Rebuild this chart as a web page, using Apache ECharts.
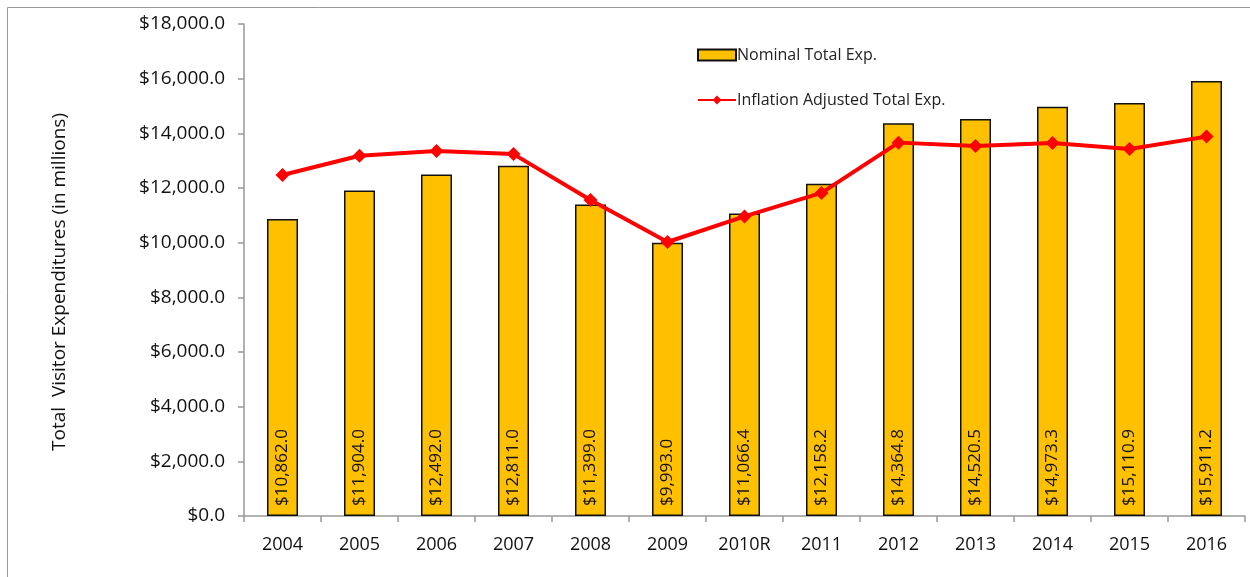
<!DOCTYPE html>
<html>
<head>
<meta charset="utf-8">
<script src="https://cdn.jsdelivr.net/npm/echarts@6/dist/echarts.min.js"></script>
<style>
  html, body { margin: 0; padding: 0; background: #fff; }
  #chart { width: 1250px; height: 577px; }
</style>
</head>
<body>
<div id="chart"></div>
<script>
// data
const years = ['2004', '2005', '2006', '2007', '2008', '2009', '2010R', '2011', '2012', '2013', '2014', '2015', '2016'];
const nominal = [10862.0, 11904.0, 12492.0, 12811.0, 11399.0, 9993.0, 11066.4, 12158.2, 14364.8, 14520.5, 14973.3, 15110.9, 15911.2];
const adjusted = [12475, 13180, 13355, 13240, 11560, 10025, 10960, 11820, 13660, 13540, 13650, 13430, 13880];

const font = 'Open Sans';
const money = v => '$' + Number(v).toLocaleString('en-US', { minimumFractionDigits: 1, maximumFractionDigits: 1 });

const myChart = echarts.init(document.getElementById('chart'));
myChart.setOption({
  animation: false,
  textStyle: { fontFamily: font },
  graphic: [
    {
      type: 'rect',
      shape: { x: 7.5, y: 7.5, width: 1260, height: 600 },
      style: { fill: 'none', stroke: '#999', lineWidth: 1 },
      silent: true
    }
  ],
  legend: {
    orient: 'vertical',
    left: 692,
    top: 42,
    itemGap: 29,
    itemWidth: 38,
    itemHeight: 11,
    textStyle: { fontFamily: font, fontSize: 16, color: '#222', padding: [0, 0, 0, -4] },
    data: [
      { name: 'Nominal Total Exp.', icon: 'rect' },
      { name: 'Inflation Adjusted Total Exp.' }
    ]
  },
  grid: {
    left: 244,
    right: 5,
    top: 24,
    bottom: 61
  },
  xAxis: {
    type: 'category',
    data: years,
    axisLine: { lineStyle: { color: '#999', width: 1.5 } },
    axisTick: { show: true, interval: 0, length: 6, lineStyle: { color: '#999', width: 1.5 } },
    axisLabel: { color: '#111', fontSize: 18, margin: 20, interval: 0 }
  },
  yAxis: {
    type: 'value',
    min: 0,
    max: 18000,
    interval: 2000,
    name: 'Total  Visitor Expenditures (in millions)',
    nameLocation: 'middle',
    nameGap: 175,
    nameTextStyle: { fontSize: 19, color: '#111', padding: [0, 24, 0, 0] },
    axisLine: { show: true, lineStyle: { color: '#999', width: 1.5 } },
    axisTick: { show: true, length: 6, lineStyle: { color: '#999', width: 1.5 } },
    splitLine: { show: false },
    axisLabel: { color: '#111', fontSize: 19, margin: 19, formatter: money }
  },
  series: [
    {
      name: 'Nominal Total Exp.',
      type: 'bar',
      data: nominal,
      barWidth: 31,
      itemStyle: { color: '#ffc000', borderColor: '#111', borderWidth: 1.5 },
      label: {
        show: true,
        position: 'insideBottom',
        rotate: 90,
        align: 'left',
        verticalAlign: 'middle',
        distance: 10,
        color: '#111',
        fontSize: 17,
        formatter: p => money(p.value)
      }
    },
    {
      name: 'Inflation Adjusted Total Exp.',
      type: 'line',
      data: adjusted,
      symbol: 'diamond',
      symbolSize: 14,
      lineStyle: { color: '#ff0000', width: 4 },
      itemStyle: { color: '#ff0000' }
    }
  ]
});
</script>
</body>
</html>
